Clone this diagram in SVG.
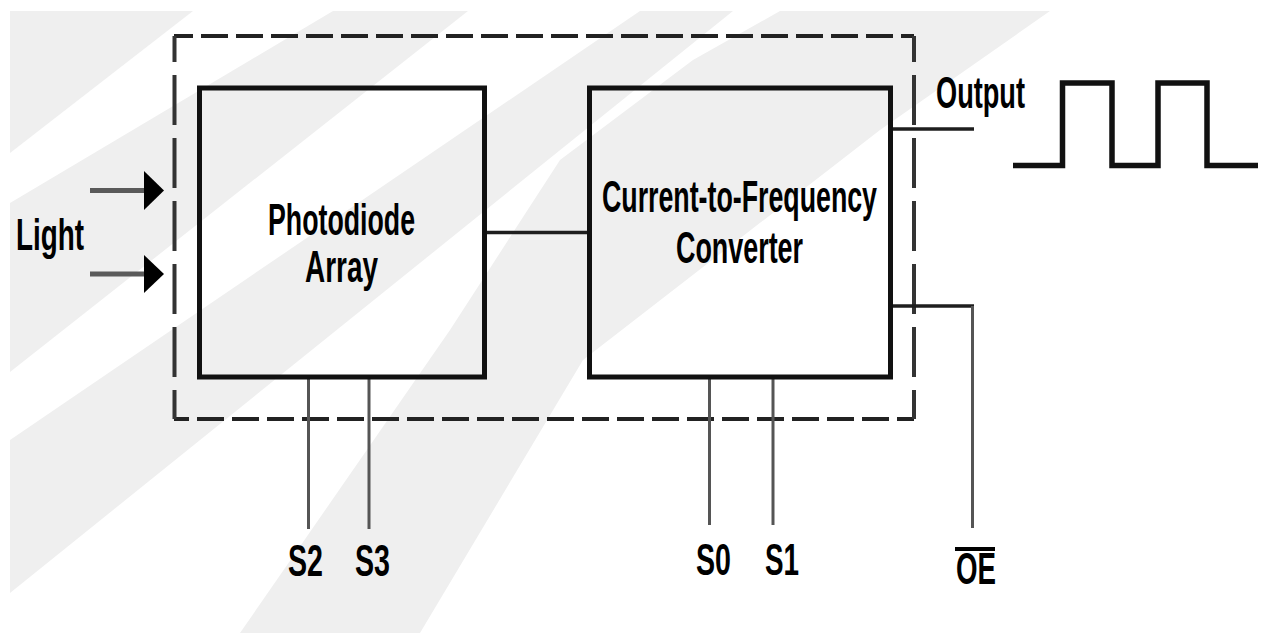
<svg xmlns="http://www.w3.org/2000/svg" width="1263" height="633" viewBox="0 0 1263 633">
<style>
.bg{fill:#efefef;stroke:none}
.box{fill:none;stroke:#111;stroke-width:5}
.dh{fill:none;stroke:#222;stroke-width:4;stroke-dasharray:27 8}
.dv{fill:none;stroke:#333;stroke-width:4;stroke-dasharray:50 13;stroke-dashoffset:24}
.wire{fill:none;stroke:#1e1e1e;stroke-width:3.5}
.pin{fill:none;stroke:#555;stroke-width:3}
.lbl{font-family:"Liberation Sans Narrow","Liberation Sans",Arial,sans-serif;font-weight:bold;font-size:44px;fill:#000}
.wave{fill:none;stroke:#111;stroke-width:5.5;stroke-linejoin:miter}
</style>
<rect width="1263" height="633" fill="#fff"/>
<g id="watermark">
<polygon class="bg" points="10,11 193,11 10,153"/>
<polygon class="bg" points="10,203 333,11 468,11 10,372"/>
<polygon class="bg" points="10,440 640,11 733,11 10,593"/>
<polygon class="bg" points="780,11 1050,11 880,130 583,360 420,633 240,633 450,330 560,160 693,60"/>
</g>
<g id="boundary">
<line class="dh" x1="174" y1="36" x2="914" y2="36" style="stroke-dashoffset:8"/>
<line class="dh" x1="174" y1="419" x2="914" y2="419" style="stroke-dashoffset:12"/>
<line class="dv" x1="174.5" y1="36" x2="174.5" y2="419"/>
<line class="dv" x1="914" y1="36" x2="914" y2="419"/>
</g>
<g id="connectors">
<line class="wire" x1="484" y1="232.5" x2="589" y2="232.5"/>
<line class="wire" x1="891" y1="129" x2="974" y2="129"/>
<polyline class="wire" points="891,306 974,306"/>
<line class="pin" x1="972.5" y1="306" x2="972.5" y2="528"/>
<line class="pin" x1="308.5" y1="378" x2="308.5" y2="529"/>
<line class="pin" x1="369" y1="378" x2="369" y2="529"/>
<line class="pin" x1="709.5" y1="378" x2="709.5" y2="525"/>
<line class="pin" x1="773" y1="378" x2="773" y2="525"/>
<line x1="90" y1="190.5" x2="146" y2="190.5" stroke="#5a5a5a" stroke-width="5"/>
<polygon points="144,171 164,190.5 144,210" fill="#000"/>
<line x1="90" y1="274" x2="146" y2="274" stroke="#5a5a5a" stroke-width="5"/>
<polygon points="144,255 164,274 144,293" fill="#000"/>
</g>
<g id="photodiode-array">
<rect class="box" x="199.5" y="88" width="285" height="289"/>
<text class="lbl" x="268" y="235" textLength="147" lengthAdjust="spacingAndGlyphs">Photodiode</text>
<text class="lbl" x="305" y="282" textLength="73" lengthAdjust="spacingAndGlyphs">Array</text>
</g>
<g id="converter">
<rect class="box" x="589.5" y="88" width="301" height="289"/>
<text class="lbl" x="602" y="212" textLength="275" lengthAdjust="spacingAndGlyphs">Current-to-Frequency</text>
<text class="lbl" x="676" y="263" textLength="127" lengthAdjust="spacingAndGlyphs">Converter</text>
</g>
<g id="light">
<text class="lbl" x="16" y="250" textLength="68" lengthAdjust="spacingAndGlyphs">Light</text>
</g>
<g id="output">
<text class="lbl" x="936" y="108" textLength="89" lengthAdjust="spacingAndGlyphs">Output</text>
<polyline class="wave" points="1013,165.5 1062.5,165.5 1062.5,83 1112,83 1112,165.5 1158,165.5 1158,83 1207,83 1207,165.5 1258,165.5"/>
</g>
<g id="pins">
<text class="lbl" x="288" y="576" textLength="35" lengthAdjust="spacingAndGlyphs">S2</text>
<text class="lbl" x="355" y="576" textLength="35" lengthAdjust="spacingAndGlyphs">S3</text>
<text class="lbl" x="696" y="575" textLength="35" lengthAdjust="spacingAndGlyphs">S0</text>
<text class="lbl" x="765" y="575" textLength="34" lengthAdjust="spacingAndGlyphs">S1</text>
<text class="lbl" x="956" y="584" textLength="40" lengthAdjust="spacingAndGlyphs">OE</text>
<rect x="955" y="547" width="40" height="4" fill="#000"/>
</g>
</svg>
